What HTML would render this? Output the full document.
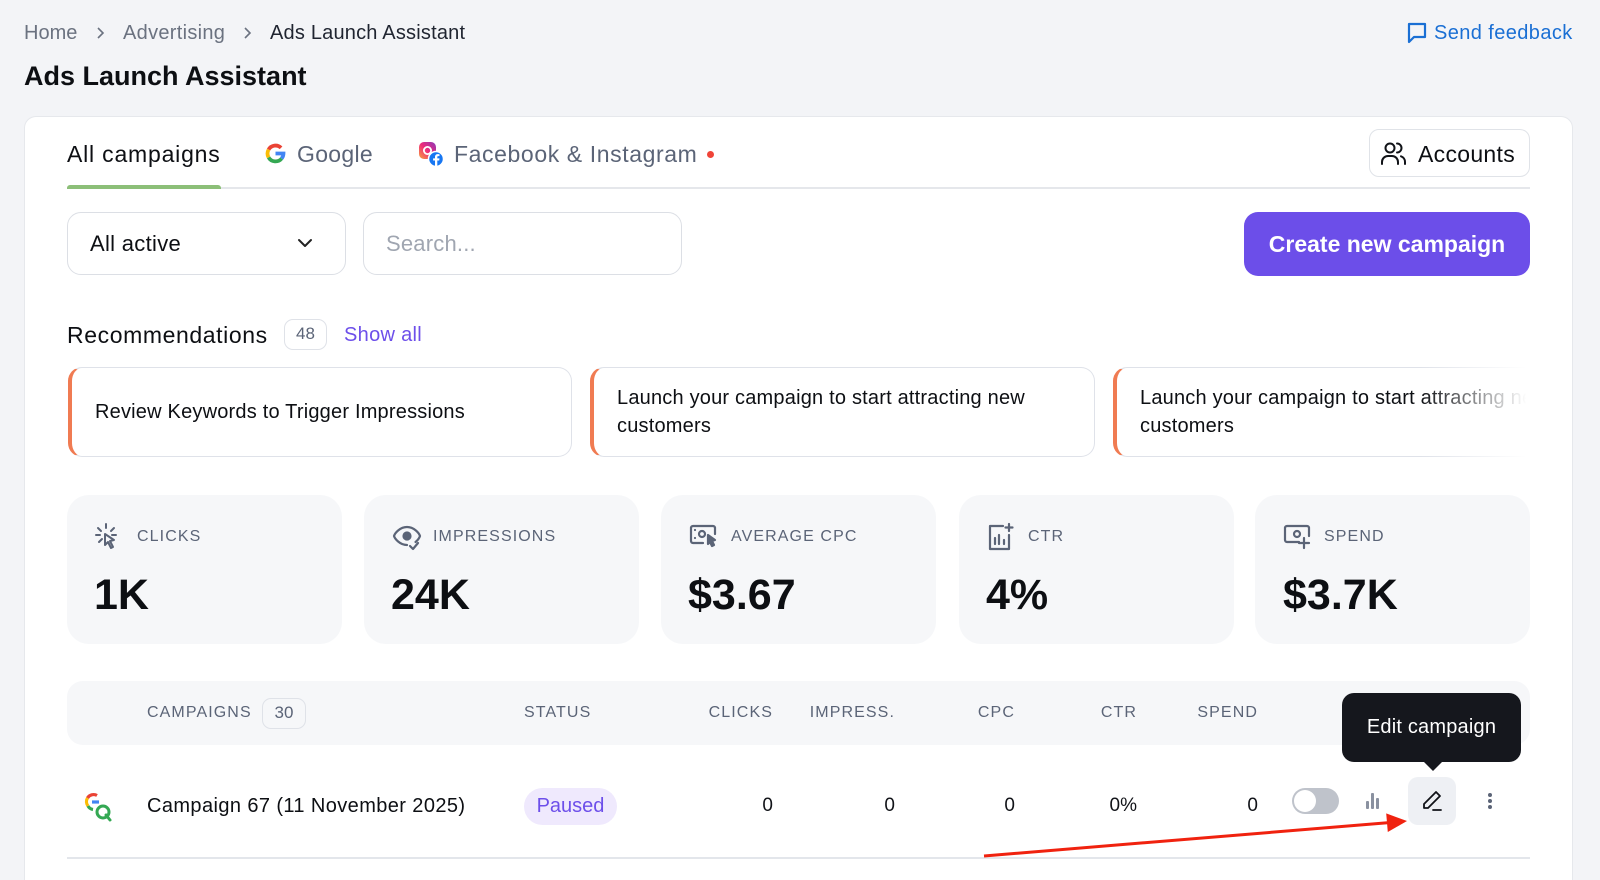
<!DOCTYPE html>
<html><head><meta charset="utf-8"><style>
*{margin:0;padding:0;box-sizing:border-box}
html,body{width:1600px;height:880px;overflow:hidden;background:#f3f4f7;font-family:"Liberation Sans",sans-serif;color:#111318}
.a{position:absolute;white-space:nowrap}
.t{position:absolute;white-space:nowrap;line-height:30px;height:30px}
.card{position:absolute;left:24px;top:116px;width:1549px;height:764px;background:#fff;border:1px solid #e6e8ec;border-bottom:none;border-radius:12px 12px 0 0}
.rec{position:absolute;top:367px;height:90px;border:1.5px solid #dfe2e9;border-left:4px solid #f07b52;border-radius:14px;background:#fff}
.stat{position:absolute;top:495px;width:275px;height:149px;background:#f6f7f9;border-radius:22px}
.lbl{font-size:16px;letter-spacing:1.1px;color:#5b6477}
.val{font-size:43px;font-weight:bold;color:#0d0f13;line-height:50px;height:50px}
.th{font-size:16px;letter-spacing:1.1px;color:#5b6477;text-align:right}
.td{font-size:19px;color:#111318;text-align:right}
</style></head><body>

<!-- breadcrumb -->
<div class="t" style="left:24px;top:18px;font-size:20px;color:#6b7280">Home</div>
<svg class="a" style="left:95px;top:26px" width="10" height="14" viewBox="0 0 10 14"><path d="M3 2l5 5-5 5" fill="none" stroke="#6b7280" stroke-width="1.6"/></svg>
<div class="t" style="left:123px;top:18px;font-size:20px;color:#6b7280;letter-spacing:0.3px">Advertising</div>
<svg class="a" style="left:242px;top:26px" width="10" height="14" viewBox="0 0 10 14"><path d="M3 2l5 5-5 5" fill="none" stroke="#6b7280" stroke-width="1.6"/></svg>
<div class="t" style="left:270px;top:18px;font-size:20px;color:#1f2430;letter-spacing:0.2px">Ads Launch Assistant</div>

<!-- send feedback -->
<svg class="a" style="left:1407px;top:22px" width="20" height="22" viewBox="0 0 20 22"><path d="M2 2h16v13H7l-5 5z" fill="none" stroke="#1a6fd4" stroke-width="2.2" stroke-linejoin="round"/></svg>
<div class="t" style="left:1434px;top:18px;font-size:20px;color:#1a6fd4;letter-spacing:0.4px">Send feedback</div>

<!-- title -->
<div class="t" style="left:24px;top:61px;font-size:27px;font-weight:bold;color:#0d0f13">Ads Launch Assistant</div>

<div class="card"></div>

<!-- tabs -->
<div class="t" style="left:67px;top:139px;font-size:23px;letter-spacing:0.8px;color:#0d0f13">All campaigns</div>
<svg class="a" style="left:265px;top:143px" width="21" height="21" viewBox="0 0 20 20">
<g fill="none" stroke-width="3.6">
<path d="M15.3 4.6A7.6 7.6 0 0 0 3.4 6.3" stroke="#ea4335"/>
<path d="M3.4 6.3A7.6 7.6 0 0 0 3.4 13.7" stroke="#fbbc05"/>
<path d="M3.4 13.7A7.6 7.6 0 0 0 15.8 14.8" stroke="#34a853"/>
<path d="M15.8 14.8A7.6 7.6 0 0 0 17.6 10H10" stroke="#4285f4"/>
</g></svg>
<div class="t" style="left:297px;top:139px;font-size:23px;color:#5b6477;letter-spacing:0.3px">Google</div>
<svg class="a" style="left:418px;top:141px" width="26" height="26" viewBox="0 0 26 26">
<defs><linearGradient id="ig" x1="0" y1="1" x2="1" y2="0"><stop offset="0" stop-color="#f9a23b"/><stop offset=".5" stop-color="#ee2a7b"/><stop offset="1" stop-color="#8a3ab9"/></linearGradient></defs>
<rect x="1" y="1" width="17" height="17" rx="5" fill="url(#ig)"/>
<circle cx="9.5" cy="9.5" r="3.6" fill="none" stroke="#fff" stroke-width="1.8"/>
<circle cx="18" cy="18" r="7.5" fill="#1877f2" stroke="#fff" stroke-width="1.5"/>
<path d="M19.3 25v-5.5h1.9l.3-2.1h-2.2v-1.3c0-.6.2-1 1-1h1.2v-1.9c-.2 0-.9-.1-1.7-.1-1.7 0-2.8 1-2.8 2.8v1.5h-1.9v2.1H17V25z" fill="#fff"/>
</svg>
<div class="t" style="left:454px;top:139px;font-size:23px;color:#5b6477;letter-spacing:0.6px">Facebook &amp; Instagram</div>
<div class="a" style="left:707px;top:151px;width:7px;height:7px;border-radius:50%;background:#f04438"></div>

<div class="a" style="left:67px;top:187px;width:1463px;height:2px;background:#e5e7eb"></div>
<div class="a" style="left:67px;top:185px;width:154px;height:4px;background:#8cbf78;border-radius:3px 3px 0 0"></div>

<!-- accounts -->
<div class="a" style="left:1369px;top:129px;width:161px;height:48px;border:1.5px solid #e0e3e8;border-radius:10px;background:#fff"></div>
<svg class="a" style="left:1380px;top:140px" width="28" height="28" viewBox="0 0 28 28" fill="none" stroke="#111318" stroke-width="2" stroke-linecap="round">
<circle cx="10" cy="8" r="4.5"/><path d="M2 24v-2a6 6 0 0 1 6-6h4a6 6 0 0 1 6 6v2"/><path d="M17 3.5a4.5 4.5 0 0 1 0 9"/><path d="M21 16.3a6 6 0 0 1 4 5.7v2"/></svg>
<div class="t" style="left:1418px;top:139px;font-size:23px;color:#0d0f13;letter-spacing:0.3px">Accounts</div>

<!-- filters -->
<div class="a" style="left:67px;top:212px;width:279px;height:63px;border:1.5px solid #dcdfe5;border-radius:14px"></div>
<div class="t" style="left:90px;top:229px;font-size:22px;color:#0d0f13;letter-spacing:0.3px">All active</div>
<svg class="a" style="left:297px;top:236px" width="16" height="14" viewBox="0 0 16 14"><path d="M2 4l6 6 6-6" fill="none" stroke="#222" stroke-width="2" stroke-linecap="round" stroke-linejoin="round"/></svg>
<div class="a" style="left:363px;top:212px;width:319px;height:63px;border:1.5px solid #dcdfe5;border-radius:14px"></div>
<div class="t" style="left:386px;top:229px;font-size:22px;color:#a0a6b1;letter-spacing:0.2px">Search...</div>

<div class="a" style="left:1244px;top:212px;width:286px;height:64px;background:#6c4ee9;border-radius:14px;color:#fff;font-size:23px;font-weight:bold;line-height:64px;text-align:center">Create new campaign</div>

<!-- recommendations -->
<div class="t" style="left:67px;top:320px;font-size:23px;color:#0d0f13;letter-spacing:0.6px">Recommendations</div>
<div class="a" style="left:284px;top:319px;width:43px;height:31px;border:1.5px solid #dfe2e8;border-radius:9px;font-size:17px;color:#5b6477;line-height:28px;text-align:center">48</div>
<div class="t" style="left:344px;top:320px;font-size:20px;color:#6d4fea;letter-spacing:0.3px">Show all</div>

<div class="rec" style="left:68px;width:504px"></div>
<div class="t" style="left:95px;top:397px;font-size:20px;color:#0d0f13;letter-spacing:0.2px">Review Keywords to Trigger Impressions</div>
<div class="rec" style="left:590px;width:505px"></div>
<div class="a" style="left:617px;top:384px;font-size:20px;line-height:28px;color:#0d0f13;letter-spacing:0.2px">Launch your campaign to start attracting new<br>customers</div>
<div class="rec" style="left:1113px;width:417px;border-right:none;border-radius:14px 0 0 14px"></div>
<div class="a" style="left:1140px;top:384px;width:390px;overflow:hidden;font-size:20px;line-height:28px;color:#0d0f13;letter-spacing:0.2px">Launch your campaign to start attracting new<br>customers</div>
<div class="a" style="left:1420px;top:362px;width:112px;height:100px;background:linear-gradient(90deg,rgba(255,255,255,0),#fff 95%)"></div>

<!-- stats -->
<div class="stat" style="left:67px"></div>
<div class="stat" style="left:364px"></div>
<div class="stat" style="left:661px"></div>
<div class="stat" style="left:959px"></div>
<div class="stat" style="left:1255px"></div>

<svg class="a" style="left:94px;top:522px" width="28" height="32" viewBox="0 0 28 32" fill="none" stroke="#5b6477" stroke-width="2" stroke-linecap="round">
<path d="M12 2v4M4 6l3 3M20 6l-3 3M2 13h4M18 13h4M5 20l3-3"/><path d="M11 12l9 6-4 1 3 6-2 1-3-6-3 3z" stroke-linejoin="round"/></svg>
<div class="t" style="left:137px;top:522px" ><span class="lbl">CLICKS</span></div>
<div class="t val" style="left:94px;top:570px">1K</div>

<svg class="a" style="left:392px;top:524px" width="30" height="28" viewBox="0 0 30 28" fill="none" stroke="#5b6477" stroke-width="2.2" stroke-linecap="round" stroke-linejoin="round">
<path d="M15 21C8 21 3 15 2 12 3 9 8 3 15 3s12 6 13 9c-.5 1.5-2 4-4.5 6"/><circle cx="15" cy="12" r="3.5" fill="#5b6477"/><path d="M18 22l3 3 5-6"/></svg>
<div class="t" style="left:433px;top:522px"><span class="lbl">IMPRESSIONS</span></div>
<div class="t val" style="left:391px;top:570px">24K</div>

<svg class="a" style="left:689px;top:523px" width="30" height="28" viewBox="0 0 30 28" fill="none" stroke="#5b6477" stroke-width="2.2" stroke-linecap="round" stroke-linejoin="round">
<path d="M14 20H4a2 2 0 0 1-2-2V5a2 2 0 0 1 2-2h20a2 2 0 0 1 2 2v6"/><circle cx="13" cy="11" r="3"/><path d="M6 7v0M6 15v0"/><path d="M19 12l7 5-3 1 2 4-2 1-2-4-2 2z" fill="#5b6477"/></svg>
<div class="t" style="left:731px;top:522px"><span class="lbl">AVERAGE CPC</span></div>
<div class="t val" style="left:688px;top:570px">$3.67</div>

<svg class="a" style="left:987px;top:522px" width="28" height="30" viewBox="0 0 28 30" fill="none" stroke="#5b6477" stroke-width="2.2" stroke-linecap="round" stroke-linejoin="round">
<path d="M16 4H3v23h19V13"/><path d="M8 22v-6M12 22v-9M17 22v-4"/><path d="M22 2v7M18.5 5.5h7"/></svg>
<div class="t" style="left:1028px;top:522px"><span class="lbl">CTR</span></div>
<div class="t val" style="left:986px;top:570px">4%</div>

<svg class="a" style="left:1283px;top:523px" width="30" height="30" viewBox="0 0 30 30" fill="none" stroke="#5b6477" stroke-width="2.2" stroke-linecap="round" stroke-linejoin="round">
<path d="M16 19H4a2 2 0 0 1-2-2V5a2 2 0 0 1 2-2h20a2 2 0 0 1 2 2v8"/><circle cx="14" cy="11" r="3"/><path d="M21 15v10M16 20h10"/></svg>
<div class="t" style="left:1324px;top:522px"><span class="lbl">SPEND</span></div>
<div class="t val" style="left:1283px;top:570px">$3.7K</div>

<!-- table header -->
<div class="a" style="left:67px;top:681px;width:1463px;height:64px;background:#f6f7f9;border-radius:16px"></div>
<div class="t" style="left:147px;top:698px"><span class="lbl">CAMPAIGNS</span></div>
<div class="a" style="left:262px;top:698px;width:44px;height:31px;border:1.5px solid #dfe2e8;border-radius:9px;font-size:17px;color:#5b6477;line-height:28px;text-align:center">30</div>
<div class="t" style="left:524px;top:698px"><span class="lbl">STATUS</span></div>
<div class="t th" style="left:673px;width:100px;top:698px">CLICKS</div>
<div class="t th" style="left:795px;width:100px;top:698px">IMPRESS.</div>
<div class="t th" style="left:915px;width:100px;top:698px">CPC</div>
<div class="t th" style="left:1037px;width:100px;top:698px">CTR</div>
<div class="t th" style="left:1158px;width:100px;top:698px">SPEND</div>

<!-- row -->
<svg class="a" style="left:84px;top:791px" width="30" height="32" viewBox="0 0 30 32">
<g fill="none" stroke-width="3.2">
<path d="M13 4.5A7 7 0 0 0 3.5 7" stroke="#ea4335"/>
<path d="M3.5 7A7 7 0 0 0 4 15" stroke="#fbbc05"/>
<path d="M4 15A7 7 0 0 0 9 18.5" stroke="#34a853"/>
<path d="M8 11h7" stroke="#4285f4"/>
</g>
<circle cx="19" cy="21" r="6" fill="none" stroke="#34a853" stroke-width="3"/>
<path d="M22 24l4 5" stroke="#34a853" stroke-width="3" stroke-linecap="round"/>
</svg>
<div class="t" style="left:147px;top:791px;font-size:20px;color:#0d0f13;letter-spacing:0.4px">Campaign 67 (11 November 2025)</div>
<div class="a" style="left:524px;top:788px;width:93px;height:37px;background:#efe9fd;border-radius:19px;font-size:20px;color:#6d4fea;line-height:37px;text-align:center">Paused</div>
<div class="t td" style="left:673px;width:100px;top:791px">0</div>
<div class="t td" style="left:795px;width:100px;top:791px">0</div>
<div class="t td" style="left:915px;width:100px;top:791px">0</div>
<div class="t td" style="left:1037px;width:100px;top:791px">0%</div>
<div class="t td" style="left:1158px;width:100px;top:791px">0</div>

<!-- toggle -->
<div class="a" style="left:1292px;top:788px;width:47px;height:26px;border-radius:13px;background:#bfc3cb"></div>
<div class="a" style="left:1294px;top:790px;width:22px;height:22px;border-radius:50%;background:#fff"></div>
<!-- bars -->
<div class="a" style="left:1366px;top:801px;width:3px;height:8px;background:#8a91a0;border-radius:1px"></div>
<div class="a" style="left:1371px;top:793px;width:3px;height:16px;background:#8a91a0;border-radius:1px"></div>
<div class="a" style="left:1376px;top:798px;width:3px;height:11px;background:#8a91a0;border-radius:1px"></div>
<!-- edit -->
<div class="a" style="left:1408px;top:777px;width:48px;height:48px;background:#eef0f4;border-radius:10px"></div>
<svg class="a" style="left:1420px;top:789px" width="24" height="24" viewBox="0 0 24 24" fill="none" stroke="#111318" stroke-width="1.8" stroke-linecap="round" stroke-linejoin="round">
<path d="M16 3l4 4L8 19H4v-4z"/><path d="M13 21h8"/></svg>
<!-- dots -->
<div class="a" style="left:1488px;top:793px;width:4px;height:4px;border-radius:50%;background:#5b6477"></div>
<div class="a" style="left:1488px;top:799px;width:4px;height:4px;border-radius:50%;background:#5b6477"></div>
<div class="a" style="left:1488px;top:805px;width:4px;height:4px;border-radius:50%;background:#5b6477"></div>

<div class="a" style="left:67px;top:857px;width:1463px;height:2px;background:#e3e6eb"></div>

<!-- tooltip -->
<div class="a" style="left:1342px;top:693px;width:179px;height:69px;background:#15171d;border-radius:12px;color:#fff;font-size:20px;line-height:69px;text-align:center;letter-spacing:0.2px">Edit campaign</div>
<svg class="a" style="left:1420px;top:761px" width="26" height="12" viewBox="0 0 26 12"><path d="M3 0h20l-10 10z" fill="#15171d"/></svg>

<!-- red arrow -->
<svg class="a" style="left:0;top:0" width="1600" height="880" viewBox="0 0 1600 880">
<line x1="984" y1="856" x2="1389" y2="822.6" stroke="#f0220f" stroke-width="3"/>
<polygon points="1407,821 1387.8,832 1386.2,813.4" fill="#f0220f"/>
</svg>
</body></html>
